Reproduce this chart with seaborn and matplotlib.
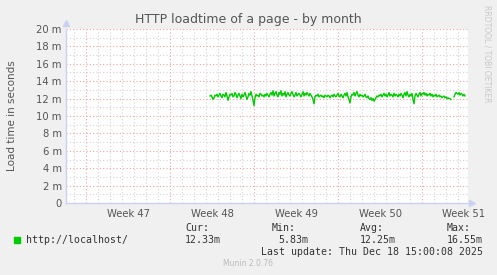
import numpy as np
import pandas as pd
import matplotlib
matplotlib.use("Agg")
import matplotlib.pyplot as plt
import seaborn as sns

# ---- data ----
loadtime_m = [
    12.3, 12.4, 12.2, 11.9, 12.1, 12.4, 12.3, 12.5, 12.2, 12.4,
    12.6, 12.3, 12.1, 12.5, 12.4, 12.2, 12.7, 12.3, 11.8, 12.2,
    12.5, 12.4, 12.6, 12.2, 12.3, 12.7, 12.5, 12.1, 12.4, 12.6,
    12.3, 12.0, 12.5, 12.2, 12.4, 12.7, 12.3, 11.9, 12.2, 12.6,
    12.4, 12.8, 12.3, 11.8, 11.2, 12.1, 12.5, 12.3, 12.4, 12.2,
    12.6, 12.5, 12.3, 12.4, 12.2, 12.5, 12.3, 12.6, 12.4, 12.2,
    12.5, 12.7, 12.4, 12.9, 12.3, 12.6, 12.8, 12.4, 12.2, 12.7,
    12.5, 12.9, 12.3, 12.6, 12.4, 12.8, 12.2, 12.5, 12.7, 12.4,
    12.3, 12.6, 12.8, 12.5, 12.2, 12.4, 12.7, 12.3, 12.5, 12.6,
    12.4, 12.2, 12.5, 12.8, 12.3, 12.6, 12.4, 12.7, 12.5, 12.3,
    12.6, 12.4, 12.2, 11.9, 11.4, 12.2, 12.4, 12.3, 12.5, 12.2,
    12.3, 12.4, 12.2, 12.3, 12.1, 12.4, 12.3, 12.2, 12.4, 12.3,
    12.1, 12.3, 12.4, 12.2, 12.5, 12.3, 12.2, 12.4, 12.6, 12.3,
    12.2, 12.5, 12.3, 12.1, 12.4, 12.6, 12.3, 12.7, 12.2, 11.9,
    11.5, 12.2, 12.5, 12.4, 12.7, 12.3, 12.6, 12.8, 12.4, 12.2,
    12.5, 12.3, 12.4, 12.2, 12.3, 12.5, 12.2, 12.1, 12.3, 12.0,
    11.9, 12.1, 11.8, 12.0, 11.7, 11.9, 12.1, 12.3, 12.2, 12.4,
    12.3, 12.5, 12.2, 12.4, 12.6, 12.3, 12.5, 12.2, 12.4, 12.7,
    12.3, 12.5, 12.4, 12.2, 12.6, 12.3, 12.5, 12.4, 12.2, 12.5,
    12.3, 12.6, 12.4, 12.1, 12.5, 12.7, 12.3, 12.8, 12.4, 12.2,
    12.5, 12.3, 12.6, 11.9, 11.4, 12.3, 12.6, 12.4, 12.2, 12.5,
    12.7, 12.3, 12.6, 12.5, 12.7, 12.4, 12.6, 12.3, 12.5, 12.4,
    12.6, 12.3, 12.5, 12.2, 12.4, 12.3, 12.5, 12.2, 12.3, 12.4,
    12.2, 12.3, 12.1, 12.2, 12.3, 12.1, 12.2, 12.0, 12.1, 12.0,
    12.0, 11.9, np.nan, np.nan, 12.2, 12.5, 12.7, 12.6, 12.5, 12.7,
    12.4, 12.6, 12.5, 12.3, 12.5, 12.3,
]
sample_start = "2025-11-27 08:00"
sample_freq = "2h"
view_start = "2025-11-15 08:00"
view_end = "2025-12-18 20:00"
week_starts = ["2025-11-17", "2025-11-24", "2025-12-01", "2025-12-08", "2025-12-15"]
week_labels = ["Week 47", "Week 48", "Week 49", "Week 50", "Week 51"]
y_ticks = [0, 2, 4, 6, 8, 10, 12, 14, 16, 18, 20]
y_labels = ["0", "2 m", "4 m", "6 m", "8 m", "10 m", "12 m", "14 m", "16 m", "18 m", "20 m"]
series_name = "http://localhost/"
stats_heads = ["Cur:", "Min:", "Avg:", "Max:"]
stats_vals = ["12.33m", "5.83m", "12.25m", "16.55m"]
last_update = "Last update: Thu Dec 18 15:00:08 2025"
title = "HTTP loadtime of a page - by month"

times = pd.date_range(sample_start, periods=len(loadtime_m), freq=sample_freq)
vals = np.array(loadtime_m, dtype=float)
seg = np.cumsum(np.isnan(vals))
df = pd.DataFrame({"time": times, "value": vals, "segment": seg}).dropna()

# ---- figure ----
BG = "#f0f0f0"
TXT = "#555555"
fig = plt.figure(figsize=(4.97, 2.75), dpi=100, facecolor=BG)
ax = fig.add_axes([66 / 497, 72 / 275, 402 / 497, 174 / 275])
ax.set_facecolor("white")

x0 = pd.Timestamp(view_start)
x1 = pd.Timestamp(view_end)
ax.set_xlim(x0, x1)
ax.set_ylim(0, 20)

week_ts = [pd.Timestamp(w) for w in week_starts]
for d in pd.date_range(x0.normalize(), x1, freq="1D"):
    if d > x0 and d not in week_ts:
        ax.axvline(d, color="#d4d4d4", lw=0.8, ls=(0, (1, 2)), zorder=0)
for yv in range(1, 21, 2):
    ax.axhline(yv, color="#d4d4d4", lw=0.8, ls=(0, (1, 2)), zorder=0)
for yv in y_ticks[1:]:
    ax.axhline(yv, color="#e8a4a4", lw=0.8, ls=(0, (1, 2)), zorder=0.5)
for w in week_ts:
    ax.axvline(w, color="#e8a4a4", lw=0.8, ls=(0, (1, 2)), zorder=0.5)

sns.lineplot(data=df, x="time", y="value", units="segment", estimator=None,
             color="#00cc00", lw=1.0, ax=ax, legend=False)

label_pos = [w + pd.Timedelta(hours=84) for w in week_ts]
ax.set_xticks(label_pos)
ax.set_xticklabels(week_labels)
ax.set_yticks(y_ticks)
ax.set_yticklabels(y_labels)
ax.tick_params(axis="both", length=0, labelsize=7.2, labelcolor=TXT, pad=3)
ax.tick_params(axis="x", pad=4)
ax.set_xlabel("")
ax.set_ylabel("Load time in seconds", fontsize=7.5, color=TXT, labelpad=14)

for s in ["top", "right"]:
    ax.spines[s].set_visible(False)
for s in ["left", "bottom"]:
    ax.spines[s].set_color("#ccd0f4")
    ax.spines[s].set_linewidth(1)
ax.plot([0], [1.035], marker="^", color="#ccd0f4", ms=4, transform=ax.transAxes, clip_on=False)
ax.plot([1.01], [0], marker=">", color="#ccd0f4", ms=4, transform=ax.transAxes, clip_on=False)

fig.text(248 / 497, 1 - 19 / 275, title, ha="center", va="center", fontsize=9, color=TXT)
fig.text(487 / 497, 1 - 5 / 275, "RRDTOOL / TOBI OETIKER", rotation=-90, ha="center", va="top",
         fontsize=5.5, color="#c8c8c8")

mono = "DejaVu Sans Mono"
fig.patches.append(plt.Rectangle((14 / 497, 1 - 243 / 275), 6 / 497, 6 / 275,
                                 transform=fig.transFigure, color="#00cc00", figure=fig))
fig.text(26 / 497, 1 - 240 / 275, series_name, family=mono, fontsize=7.1, color="#333333", va="center")
head_x = [185, 272, 360, 447]
val_right = [221, 308, 396, 483]
for hx, h, vr, v in zip(head_x, stats_heads, val_right, stats_vals):
    fig.text(hx / 497, 1 - 228 / 275, h, family=mono, fontsize=7.1, color="#333333", va="center")
    fig.text(vr / 497, 1 - 240 / 275, v, family=mono, fontsize=7.1, color="#333333", va="center", ha="right")
fig.text(483 / 497, 1 - 252 / 275, last_update, family=mono, fontsize=7.1, color="#333333", va="center", ha="right")
fig.text(248 / 497, 1 - 264 / 275, "Munin 2.0.76", fontsize=5.5, color="#bbbbbb", ha="center", va="center")

fig.savefig("out.png", dpi=100, facecolor=BG)
